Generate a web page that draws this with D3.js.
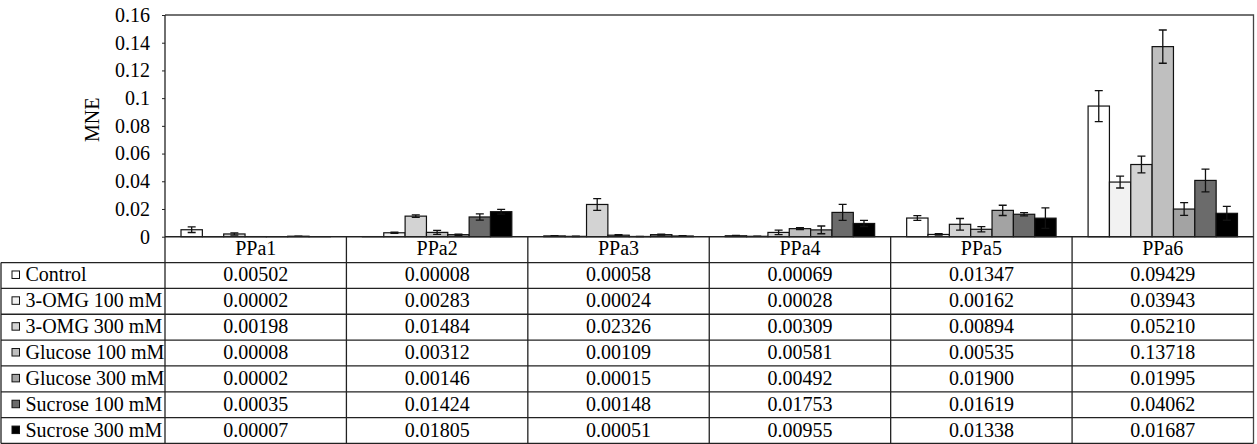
<!DOCTYPE html>
<html>
<head>
<meta charset="utf-8">
<script src="https://cdn.jsdelivr.net/npm/d3@7"></script>
<style>
  html, body { margin: 0; padding: 0; background: #fff; }
  svg { display: block; }
</style>
</head>
<body>
<svg id="chart" width="1257" height="444"></svg>
<script>
// ---- data ----
const categories = ["PPa1", "PPa2", "PPa3", "PPa4", "PPa5", "PPa6"];
const seriesNames = ["Control", "3-OMG 100 mM", "3-OMG 300 mM", "Glucose 100 mM", "Glucose 300 mM", "Sucrose 100 mM", "Sucrose 300 mM"];
const seriesColors = ["#ffffff", "#f2f2f2", "#d3d3d3", "#bfbfbf", "#a3a3a3", "#6b6b6b", "#000000"];
const controlValues   = [0.00502, 0.00008, 0.00058, 0.00069, 0.01347, 0.09429];
const omg100Values    = [0.00002, 0.00283, 0.00024, 0.00028, 0.00162, 0.03943];
const omg300Values    = [0.00198, 0.01484, 0.02326, 0.00309, 0.00894, 0.05210];
const glc100Values    = [0.00008, 0.00312, 0.00109, 0.00581, 0.00535, 0.13718];
const glc300Values    = [0.00002, 0.00146, 0.00015, 0.00492, 0.01900, 0.01995];
const suc100Values    = [0.00035, 0.01424, 0.00148, 0.01753, 0.01619, 0.04062];
const suc300Values    = [0.00007, 0.01805, 0.00051, 0.00955, 0.01338, 0.01687];
// error bar half-lengths
const controlErr = [0.0020, 0.0000, 0.0002, 0.0002, 0.0017, 0.0112];
const omg100Err  = [0.0000, 0.0005, 0.0001, 0.0001, 0.0005, 0.0043];
const omg300Err  = [0.0008, 0.0009, 0.0042, 0.0016, 0.0042, 0.0060];
const glc100Err  = [0.0000, 0.0014, 0.0003, 0.0007, 0.0019, 0.0120];
const glc300Err  = [0.0000, 0.0004, 0.0001, 0.0028, 0.0037, 0.0046];
const suc100Err  = [0.0001, 0.0023, 0.0004, 0.0058, 0.0012, 0.0082];
const suc300Err  = [0.0000, 0.0017, 0.0002, 0.0022, 0.0074, 0.0050];
const yTickValues = [0, 0.02, 0.04, 0.06, 0.08, 0.1, 0.12, 0.14, 0.16];
const yLabel = "MNE";

const seriesValues = [controlValues, omg100Values, omg300Values, glc100Values, glc300Values, suc100Values, suc300Values];
const seriesErrors = [controlErr, omg100Err, omg300Err, glc100Err, glc300Err, suc100Err, suc300Err];

// ---- layout ----
const FONT = '"Liberation Serif", "Times New Roman", Tinos, serif';
const svg = d3.select("#chart").style("font-family", FONT);
const plotLeft = 165, plotRight = 1253.5, plotTop = 15, plotBottom = 236.7;
const tableBottom = 443.5;
const rowH = (tableBottom - plotBottom) / (seriesNames.length + 1);
const fontSize = 20;
const lineColor = "#222";

function txt(sel) {
  return sel.style("font-family", FONT).style("font-size", fontSize + "px").attr("fill", "#000");
}

const x0 = d3.scaleBand().domain(categories).range([plotLeft, plotRight]).padding(0);
const x1 = d3.scaleBand().domain(seriesNames).range([0, x0.bandwidth()]).paddingInner(0).paddingOuter(0.75);
const y = d3.scaleLinear().domain([0, 0.16]).range([plotBottom, plotTop]);

// plot frame (top + right)
svg.append("path")
  .attr("d", `M${plotLeft},${plotTop}H${plotRight}V${tableBottom}`)
  .attr("fill", "none").attr("stroke", "#444").attr("stroke-width", 1.3);

// bars
const data = [];
seriesNames.forEach((s, si) => {
  categories.forEach((c, ci) => {
    data.push({ s, si, c, v: seriesValues[si][ci], e: seriesErrors[si][ci] });
  });
});

svg.append("g").selectAll("rect").data(data).join("rect")
  .attr("x", d => x0(d.c) + x1(d.s))
  .attr("y", d => y(d.v))
  .attr("width", x1.bandwidth())
  .attr("height", d => y(0) - y(d.v))
  .attr("fill", d => seriesColors[d.si])
  .attr("stroke", "#111")
  .attr("stroke-width", 1.2);

// error bars
const eg = svg.append("g").attr("stroke", "#111").attr("stroke-width", 1.3).attr("fill", "none");
data.filter(d => d.e > 0).forEach(d => {
  const cx = x0(d.c) + x1(d.s) + x1.bandwidth() / 2;
  const yt = y(d.v + d.e), yb = y(Math.max(0, d.v - d.e));
  const cw = 4;
  eg.append("path").attr("d", `M${cx},${yt}V${yb}M${cx - cw},${yt}H${cx + cw}M${cx - cw},${yb}H${cx + cw}`);
});

// y axis
const yAxis = d3.axisLeft(y).tickValues(yTickValues).tickSize(3).tickPadding(12)
  .tickFormat(d => String(+d.toFixed(2)));
const ya = svg.append("g").attr("transform", `translate(${plotLeft},0)`).call(yAxis)
  .attr("font-family", FONT).attr("font-size", fontSize);
ya.select(".domain").remove();
ya.selectAll("line").attr("stroke", "#222");
txt(ya.selectAll("text"));

// axis line (left, through table)
svg.append("line").attr("x1", plotLeft).attr("x2", plotLeft).attr("y1", plotTop).attr("y2", tableBottom)
  .attr("stroke", lineColor).attr("stroke-width", 1.3);

// y label
txt(svg.append("text"))
  .attr("transform", `translate(92,${(plotTop + plotBottom) / 2 - 6}) rotate(-90)`)
  .attr("text-anchor", "middle").attr("dominant-baseline", "central")
  .text(yLabel);

// ---- data table ----
const tg = svg.append("g");
tg.append("line").attr("x1", plotLeft).attr("x2", plotRight).attr("y1", plotBottom).attr("y2", plotBottom)
  .attr("stroke", lineColor).attr("stroke-width", 1.5);
for (let r = 1; r <= seriesNames.length + 1; r++) {
  const yy = plotBottom + r * rowH;
  tg.append("line").attr("x1", 1).attr("x2", plotRight).attr("y1", yy).attr("y2", yy)
    .attr("stroke", lineColor).attr("stroke-width", 1.3);
}
tg.append("line").attr("x1", 1).attr("x2", 1).attr("y1", plotBottom + rowH).attr("y2", tableBottom)
  .attr("stroke", lineColor).attr("stroke-width", 1.3);
categories.forEach((c, i) => {
  if (i === 0) return;
  tg.append("line").attr("x1", x0(c)).attr("x2", x0(c)).attr("y1", plotBottom).attr("y2", tableBottom)
    .attr("stroke", lineColor).attr("stroke-width", 1.3);
});
txt(tg.selectAll("text.cat").data(categories).join("text").attr("class", "cat"))
  .attr("x", d => x0(d) + x0.bandwidth() / 2)
  .attr("y", plotBottom + rowH / 2 - 1.5)
  .attr("text-anchor", "middle").attr("dominant-baseline", "central")
  .text(d => d);
seriesNames.forEach((s, si) => {
  const cy = plotBottom + (si + 1.5) * rowH - 1;
  tg.append("rect").attr("x", 12).attr("y", cy - 3.5).attr("width", 7.5).attr("height", 7.5)
    .attr("fill", seriesColors[si]).attr("stroke", "#111").attr("stroke-width", 1);
  txt(tg.append("text")).attr("x", 25.5).attr("y", cy).attr("dominant-baseline", "central").text(s);
  categories.forEach((c, ci) => {
    txt(tg.append("text")).attr("x", x0(c) + x0.bandwidth() / 2).attr("y", cy)
      .attr("text-anchor", "middle").attr("dominant-baseline", "central")
      .text(seriesValues[si][ci].toFixed(5));
  });
});
</script>
</body>
</html>
